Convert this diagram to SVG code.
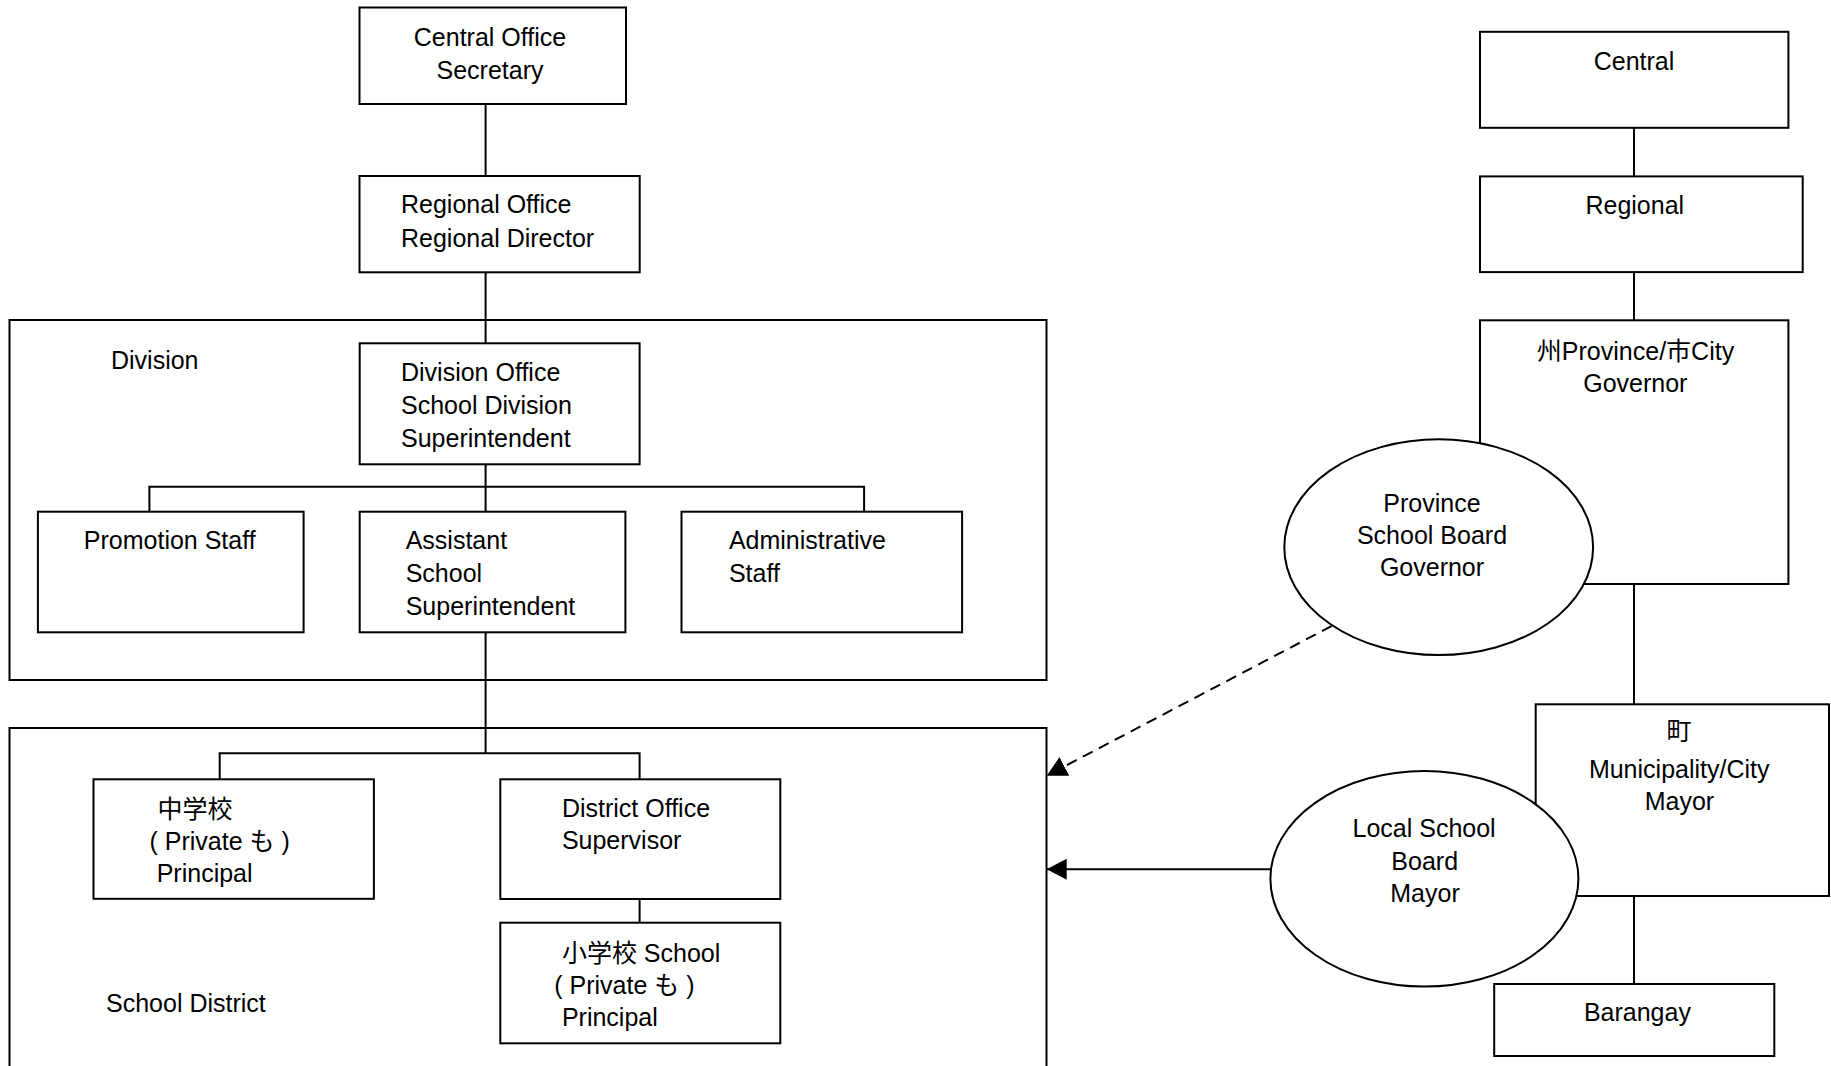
<svg xmlns="http://www.w3.org/2000/svg" width="1831" height="1066" viewBox="0 0 1831 1066">
<style>
.box{fill:#fff;stroke:#000;stroke-width:2}
.frame{fill:none;stroke:#000;stroke-width:2}
.ell{fill:#fff;stroke:#000;stroke-width:2}
.ln{fill:none;stroke:#000;stroke-width:2}
.dash{fill:none;stroke:#000;stroke-width:2;stroke-dasharray:11 7}
text{font-family:"Liberation Sans","Noto Sans CJK JP",sans-serif;font-size:25px;fill:#000}
.c{text-anchor:middle}
</style>
<defs>
<marker id="arr" markerUnits="userSpaceOnUse" markerWidth="21" markerHeight="22" refX="20" refY="10.5" orient="auto" viewBox="0 0 21 22">
<path d="M0,0 L20,10.5 L0,21 Z" fill="#000" stroke="none"/>
</marker>
</defs>
<rect width="1831" height="1066" fill="#fff"/>

<g id="division-container">
<rect class="frame" x="9.5" y="320" width="1037" height="360"/>
<text x="111" y="369">Division</text>
</g>
<g id="school-district-container">
<rect class="frame" x="9.5" y="728" width="1037" height="360"/>
<text x="106" y="1012">School District</text>
</g>

<g id="connectors">
<path class="ln" d="M485.6,104 V176 M485.6,272.3 V343.3 M485.6,464.3 V511.7 M149.4,511.7 V486.7 H864.1 V511.7 M485.6,632.3 V753.3 M219.7,779.3 V753.3 H639.6 V779.3 M639.6,899 V922.7"/>
<path class="ln" d="M1634,127.8 V176.4 M1634,272.1 V320.3 M1634,584 V704.3 M1634,896 V984"/>
<path class="dash" d="M1331.7,626 L1046.7,775.7" marker-end="url(#arr)"/>
<path class="ln" d="M1271,869.3 H1046.7" marker-end="url(#arr)"/>
</g>

<g id="central-office">
<rect class="box" x="359.5" y="7.5" width="266.5" height="96.5"/>
<text class="c" x="490" y="45.7">Central Office</text>
<text class="c" x="490" y="79">Secretary</text>
</g>
<g id="regional-office">
<rect class="box" x="359.5" y="176" width="280.2" height="96.3"/>
<text x="401" y="213.3">Regional Office</text>
<text x="401" y="246.7">Regional Director</text>
</g>
<g id="division-office">
<rect class="box" x="359.7" y="343.3" width="279.9" height="121"/>
<text x="401" y="381">Division Office</text>
<text x="401" y="414.3">School Division</text>
<text x="401" y="446.7">Superintendent</text>
</g>
<g id="promotion-staff">
<rect class="box" x="37.9" y="511.7" width="265.7" height="120.6"/>
<text x="83.8" y="549.3">Promotion Staff</text>
</g>
<g id="assistant-superintendent">
<rect class="box" x="359.7" y="511.7" width="265.7" height="120.6"/>
<text x="405.7" y="549.3">Assistant</text>
<text x="405.7" y="581.7">School</text>
<text x="405.7" y="615">Superintendent</text>
</g>
<g id="administrative-staff">
<rect class="box" x="681.5" y="511.7" width="280.6" height="120.6"/>
<text x="728.9" y="549.3">Administrative</text>
<text x="728.9" y="581.7">Staff</text>
</g>
<g id="junior-high">
<rect class="box" x="93.5" y="779.3" width="280.4" height="119.5"/>
<text x="157.5" y="817.5">中学校</text>
<text x="149.5" y="850">( Private も )</text>
<text x="156.7" y="882">Principal</text>
</g>
<g id="district-office">
<rect class="box" x="500.3" y="779.3" width="280" height="119.7"/>
<text x="561.9" y="816.7">District Office</text>
<text x="561.9" y="849.3">Supervisor</text>
</g>
<g id="elementary-school">
<rect class="box" x="500.3" y="922.7" width="280" height="120.6"/>
<text x="561.9" y="961.7">小学校 School</text>
<text x="554.3" y="994">( Private も )</text>
<text x="561.9" y="1026">Principal</text>
</g>

<g id="central">
<rect class="box" x="1480" y="31.8" width="308.4" height="96"/>
<text class="c" x="1634" y="70">Central</text>
</g>
<g id="regional">
<rect class="box" x="1480" y="176.4" width="322.7" height="95.7"/>
<text class="c" x="1634.8" y="214.3">Regional</text>
</g>
<g id="province-city">
<rect class="box" x="1480" y="320.3" width="308.4" height="263.7"/>
<text class="c" x="1635.5" y="359.7">州Province/市City</text>
<text class="c" x="1635.3" y="391.5">Governor</text>
</g>
<g id="province-school-board">
<ellipse class="ell" cx="1438.7" cy="547.2" rx="154.4" ry="107.9"/>
<text class="c" x="1432" y="511.7">Province</text>
<text class="c" x="1432" y="544.2">School Board</text>
<text class="c" x="1432" y="576">Governor</text>
</g>
<g id="municipality-city">
<rect class="box" x="1535.7" y="704.3" width="293.3" height="191.7"/>
<text class="c" x="1679" y="740">町</text>
<text class="c" x="1679.2" y="778.3">Municipality/City</text>
<text class="c" x="1679.4" y="810">Mayor</text>
</g>
<g id="local-school-board">
<ellipse class="ell" cx="1424.4" cy="878.8" rx="154" ry="107.8"/>
<text class="c" x="1424.1" y="837.3">Local School</text>
<text class="c" x="1424.7" y="870">Board</text>
<text class="c" x="1425" y="901.7">Mayor</text>
</g>
<g id="barangay">
<rect class="box" x="1494.2" y="984" width="280.1" height="72"/>
<text class="c" x="1637.4" y="1020.7">Barangay</text>
</g>
</svg>
